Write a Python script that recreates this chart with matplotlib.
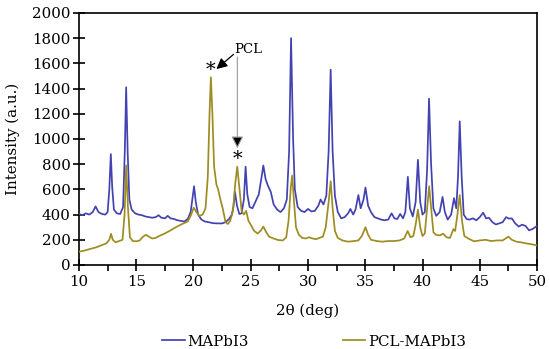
import matplotlib
matplotlib.use("Agg")
import matplotlib.pyplot as plt
from matplotlib.ticker import MultipleLocator

# ---- data ----
mapbi3_x = [10.0, 10.3, 10.6, 10.9, 11.2, 11.45, 11.7, 12.0, 12.3, 12.5, 12.65, 12.78, 12.9, 13.05, 13.3, 13.6,
            13.85, 14.0, 14.12, 14.25, 14.4, 14.6, 14.9, 15.2, 15.5, 15.8, 16.1, 16.4, 16.7, 16.95, 17.2, 17.5,
            17.75, 18.0, 18.3, 18.6, 18.9, 19.2, 19.5, 19.75, 19.95, 20.05, 20.2, 20.4, 20.7, 21.0, 21.3, 21.7,
            22.1, 22.5, 22.8, 23.1, 23.35, 23.5, 23.62, 23.8, 24.0, 24.2, 24.4, 24.55, 24.7, 24.9, 25.15, 25.4,
            25.7, 25.95, 26.1, 26.3, 26.5, 26.75, 27.0, 27.3, 27.6, 27.9, 28.15, 28.35, 28.52, 28.7, 28.85, 29.1,
            29.4, 29.7, 30.0, 30.3, 30.6, 30.9, 31.1, 31.35, 31.6, 31.8, 31.98, 32.15, 32.35, 32.6, 32.9, 33.2,
            33.5, 33.7, 33.95, 34.15, 34.4, 34.6, 34.85, 35.02, 35.25, 35.5, 35.8, 36.1, 36.4, 36.7, 37.0, 37.3,
            37.55, 37.8, 38.05, 38.3, 38.5, 38.72, 38.9, 39.15, 39.4, 39.6, 39.8, 40.0, 40.2, 40.4, 40.57, 40.75,
            40.95, 41.2, 41.5, 41.75, 41.95, 42.2, 42.5, 42.75, 42.95, 43.1, 43.25, 43.42, 43.6, 43.85, 44.1, 44.4,
            44.7, 45.0, 45.3, 45.55, 45.8, 46.1, 46.4, 46.7, 47.0, 47.3, 47.55, 47.8, 48.1, 48.4, 48.7, 49.0,
            49.3, 49.6, 49.85, 50.0]
mapbi3_y = [405, 395, 410, 400, 420, 465, 420, 405, 400, 420, 600, 880, 620, 440, 410, 405,
            460, 900, 1410, 900, 520, 440, 410, 400, 395, 385, 380, 375, 380, 395, 375, 370,
            390, 370, 365, 355, 350, 345, 365, 420, 560, 625, 500, 400, 360, 345, 340, 332,
            330, 330, 340, 365, 400, 470, 580, 470, 405, 410, 520, 780, 560, 460, 450, 500,
            560, 700, 790, 680, 630, 580, 480, 440, 420, 450, 520, 900, 1800, 1000, 600, 460,
            430, 420, 445, 425, 430, 470, 520, 480, 550, 900, 1550, 900, 550, 420, 370, 380,
            410, 445, 400, 440, 555, 450, 520, 615, 470, 420, 380, 370, 360, 355, 360, 410,
            370, 365, 405, 370, 420, 700, 450, 385, 500, 835, 500, 400, 420, 750, 1320, 800,
            450, 390, 420, 540, 420, 360, 400, 530, 450, 700, 1140, 700, 400, 365, 360, 370,
            355, 380, 415, 370, 375, 340, 322, 330, 340, 380, 368, 370, 330, 305, 320, 310,
            275, 285, 300, 310]

pcl_x = [10.0, 10.5, 11.0, 11.5, 12.0, 12.4, 12.65, 12.8, 12.95, 13.2, 13.5, 13.8, 13.98, 14.12, 14.28, 14.45,
         14.7, 15.0, 15.3, 15.6, 15.85, 16.1, 16.4, 16.7, 17.0, 17.5, 18.0, 18.5, 19.0, 19.5, 19.8, 20.02,
         20.25, 20.5, 20.8, 21.05, 21.25, 21.4, 21.52, 21.65, 21.8, 22.0, 22.15, 22.35, 22.55, 22.8, 23.0, 23.2,
         23.45, 23.65, 23.82, 24.0, 24.2, 24.4, 24.6, 24.8, 25.0, 25.3, 25.6, 25.9, 26.1, 26.35, 26.6, 27.0,
         27.4, 27.8, 28.1, 28.3, 28.5, 28.62, 28.78, 28.95, 29.2, 29.5, 29.8, 30.1, 30.4, 30.7, 31.0, 31.3,
         31.55, 31.8, 31.98, 32.15, 32.35, 32.6, 33.0, 33.5, 34.0, 34.4, 34.7, 35.02, 35.25, 35.5, 36.0, 36.5,
         37.0, 37.5, 38.0, 38.4, 38.7, 38.95, 39.2, 39.4, 39.6, 39.8, 40.0, 40.2, 40.4, 40.58, 40.75, 40.95,
         41.2, 41.5, 41.8, 42.1, 42.4, 42.7, 42.85, 43.05, 43.25, 43.45, 43.65, 44.0, 44.5, 45.0, 45.5, 46.0,
         46.5, 47.0, 47.5, 47.8, 48.2, 48.6, 49.0, 49.5, 50.0]
pcl_y = [105, 115, 128, 140, 158, 172, 200, 248, 200, 180, 190, 200, 400, 790, 450, 220,
         190, 188, 195, 225, 240, 225, 210, 215, 230, 250, 275, 302, 325, 345, 400, 455,
         420, 390, 400, 450, 700, 1200, 1490, 1200, 780, 640, 600, 520, 450, 340, 325, 350,
         430, 650, 780, 620, 430, 400, 430, 350, 320, 270, 250, 275, 305, 260, 225, 210,
         198, 195, 220, 350, 620, 710, 500, 300, 240, 215, 210, 220, 210, 205, 215, 225,
         300, 500, 665, 450, 270, 215, 195, 185, 190, 195, 230, 300, 240, 200, 190, 185,
         190, 190, 195, 210, 270, 220, 230, 320, 440, 300, 230, 250, 450, 625, 460, 260,
         238, 235, 248, 220, 215, 285, 270, 400, 555, 350, 230, 210, 188, 195, 200, 190,
         195, 195, 225, 200, 185, 180, 172, 165, 155]

series_labels = ["MAPbI3", "PCL-MAPbI3"]
x_ticks = [10, 15, 20, 25, 30, 35, 40, 45, 50]
y_ticks = [0, 200, 400, 600, 800, 1000, 1200, 1400, 1600, 1800, 2000]

# ---- style ----
plt.rcParams['font.family'] = ['DejaVu Serif']
FS = 10.8
blue = '#4242b2'
olive = '#9e8c22'

fig = plt.figure(figsize=(5.5, 3.49), dpi=100)
ax = fig.add_axes([0.1436, 0.2407, 0.8328, 0.7221])

ax.plot(mapbi3_x, mapbi3_y, color=blue, lw=1.25, label=series_labels[0], zorder=3)
ax.plot(pcl_x, pcl_y, color=olive, lw=1.25, label=series_labels[1], zorder=4)

ax.set_xlim(10, 50)
ax.set_ylim(0, 2000)
ax.set_xticks(x_ticks)
ax.set_yticks(y_ticks)
ax.xaxis.set_minor_locator(MultipleLocator(2.5))
ax.tick_params(axis='x', which='major', direction='inout', length=8, width=1.2, labelsize=FS, pad=3)
ax.tick_params(axis='x', which='minor', direction='out', length=4, width=1.2)
ax.tick_params(axis='y', which='major', direction='inout', length=8, width=1.2, labelsize=FS, pad=2)
for s in ax.spines.values():
    s.set_linewidth(1.2)
    s.set_color('black')

ax.set_xlabel('2θ (deg)', fontsize=FS)
ax.xaxis.set_label_coords(0.5, -0.155)
ax.set_ylabel('Intensity (a.u.)', fontsize=FS)
ax.yaxis.set_label_coords(-0.128, 0.5)

# annotations
ax.text(24.75, 1712, 'PCL', fontsize=9.5, ha='center', va='center')
ax.annotate('', xy=(22.0, 1555), xytext=(23.5, 1672),
            arrowprops=dict(arrowstyle='-|>', color='black', lw=0.9, mutation_scale=16,
                            shrinkA=0, shrinkB=0))
ax.annotate('', xy=(23.83, 926), xytext=(23.83, 1650),
            arrowprops=dict(arrowstyle='-|>', ec='#999999', fc='black', lw=0.8, mutation_scale=18,
                            shrinkA=0, shrinkB=0))
ax.text(21.45, 1548, '*', fontsize=14, ha='center', va='center')
ax.text(23.83, 839, '*', fontsize=14, ha='center', va='center')

leg = ax.legend(loc='center', bbox_to_anchor=(0.513, -0.304), ncol=2, frameon=False, fontsize=FS,
                handlelength=1.5, handletextpad=0.15, columnspacing=6.3, borderpad=0)

fig.savefig('out.png', dpi=100)
